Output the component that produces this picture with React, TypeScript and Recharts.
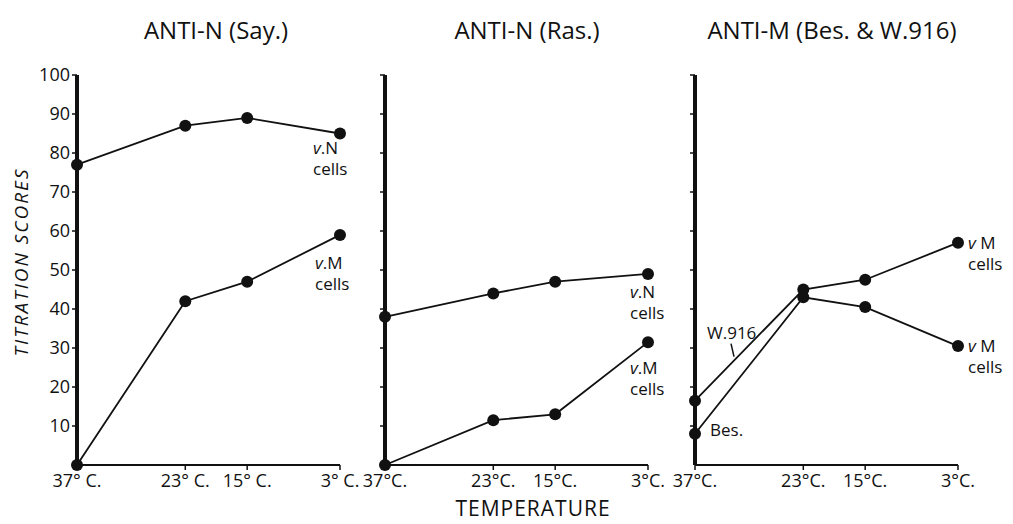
import React from 'react';
import { LineChart, Line, XAxis, YAxis, LabelList } from 'recharts';

const temps = [37, 23, 15, 3];
const sayN = [77, 87, 89, 85];
const sayM = [0, 42, 47, 59];
const rasN = [38, 44, 47, 49];
const rasM = [0, 11.5, 13, 31.5];
const w916 = [16.5, 45, 47.5, 57];
const bes = [8, 43, 40.5, 30.5];
const yTicks = [10, 20, 30, 40, 50, 60, 70, 80, 90, 100];
const tempLabelsSpaced = ['37° C.', '23° C.', '15° C.', '3° C.'];
const tempLabels = ['37°C.', '23°C.', '15°C.', '3°C.'];
const titles = ['ANTI-N (Say.)', 'ANTI-N (Ras.)', 'ANTI-M (Bes. & W.916)'];

const INK = '#111';
const FONT = '"Open Sans", "DejaVu Sans", sans-serif';

const rows = (a: number[], b: number[]) => temps.map((t, i) => ({ t, a: a[i], b: b[i] }));

// text beside one point of a series, offset from the point the scale gives
function note(idx: number, lines: string[], dx: number, dy: number, slash = false) {
  return (p: any) => {
    if (p.index !== idx) return null;
    const x = p.x + dx;
    const y = p.y + dy;
    return (
      <g>
        <text x={x} y={y} fontSize={17} fill={INK} fontFamily={FONT}>
          {lines.map((l, i) => (
            <tspan key={i} x={x} y={y + i * 21 + 6}>
              {l.startsWith('v') ? (
                <>
                  <tspan fontStyle="italic">v</tspan>
                  {l.slice(1)}
                </>
              ) : (
                l
              )}
            </tspan>
          ))}
        </text>
        {slash && <line x1={x + 24} y1={y + 11} x2={x + 27} y2={y + 24} stroke={INK} strokeWidth={1.5} />}
      </g>
    );
  };
}

const noTick = () => <g />;
const yTick = (p: any) => (
  <text x={p.x} y={p.y} dy={6} textAnchor="end" fontSize={18} fill={INK} fontFamily={FONT}>
    {p.payload.value}
  </text>
);

interface PanelProps {
  left: number;
  data: { t: number; a: number; b: number }[];
  labels: string[];
  showY?: boolean;
  noteA: (p: any) => any;
  noteB: (p: any) => any;
}

function Panel({ left, data, labels, showY, noteA, noteB }: PanelProps) {
  return (
    <div style={{ position: 'absolute', left, top: 0 }}>
      <LineChart width={400} height={505} data={data} margin={{ top: 75, right: 60, bottom: 0, left: 0 }} style={{ overflow: 'visible' }}>
        <XAxis
          dataKey="t"
          type="number"
          domain={[3, 37]}
          reversed
          ticks={temps}
          interval={0}
          tickFormatter={(v: number) => labels[temps.indexOf(v)]}
          axisLine={{ stroke: INK, strokeWidth: 2 }}
          tickLine={{ stroke: INK, strokeWidth: 1.5 }}
          tickSize={5}
          tickMargin={4}
          tick={{ fontSize: 18, fill: INK, fontFamily: FONT }}
          height={40}
        />
        <YAxis
          type="number"
          domain={[0, 100]}
          ticks={yTicks}
          interval={0}
          width={77}
          axisLine={{ stroke: INK, strokeWidth: 4 }}
          tickLine={{ stroke: INK, strokeWidth: 1.5 }}
          tickSize={5}
          tickMargin={2}
          tick={showY ? yTick : noTick}
        />
        <Line dataKey="a" stroke={INK} strokeWidth={1.8} dot={{ r: 6, fill: INK, stroke: INK, strokeWidth: 0 }} isAnimationActive={false}>
          <LabelList dataKey="a" content={noteA} />
        </Line>
        <Line dataKey="b" stroke={INK} strokeWidth={1.8} dot={{ r: 6, fill: INK, stroke: INK, strokeWidth: 0 }} isAnimationActive={false}>
          <LabelList dataKey="b" content={noteB} />
        </Line>
      </LineChart>
    </div>
  );
}

const titleCenters = [216, 527, 832];

export default function App() {
  return (
    <div style={{ position: 'absolute', left: 0, top: 0, width: 1013, height: 524, background: '#fff', overflow: 'hidden', fontFamily: FONT, color: INK }}>
      {titles.map((t, i) => (
        <div key={t} style={{ position: 'absolute', left: titleCenters[i] - 160, top: 14, width: 320, textAlign: 'center', fontSize: 24, lineHeight: '32px' }}>
          {t}
        </div>
      ))}
      <svg width={40} height={524} style={{ position: 'absolute', left: 0, top: 0 }}>
        <text x={28} y={262} transform="rotate(-90, 28, 262)" textAnchor="middle" fontSize={19} fontStyle="italic" letterSpacing={2} fill={INK} fontFamily={FONT}>
          TITRATION SCORES
        </text>
      </svg>
      <Panel left={0} data={rows(sayN, sayM)} labels={tempLabelsSpaced} showY noteA={note(3, ['v.N', 'cells'], -27, 14)} noteB={note(3, ['v.M', 'cells'], -25, 28)} />
      <Panel left={308} data={rows(rasN, rasM)} labels={tempLabels} noteA={note(3, ['v.N', 'cells'], -18, 18)} noteB={note(3, ['v.M', 'cells'], -18, 26)} />
      <Panel
        left={618}
        data={rows(w916, bes)}
        labels={tempLabels}
        noteA={(p: any) => (p.index === 0 ? note(0, ['W.916'], 12, -68, true)(p) : note(3, ['v M', 'cells'], 10, 0)(p))}
        noteB={(p: any) => (p.index === 0 ? note(0, ['Bes.'], 15, -4)(p) : note(3, ['v M', 'cells'], 10, 0)(p))}
      />
      <div style={{ position: 'absolute', left: 383, top: 494, width: 300, textAlign: 'center', fontSize: 21, letterSpacing: 1, lineHeight: '28px' }}>
        TEMPERATURE
      </div>
    </div>
  );
}
